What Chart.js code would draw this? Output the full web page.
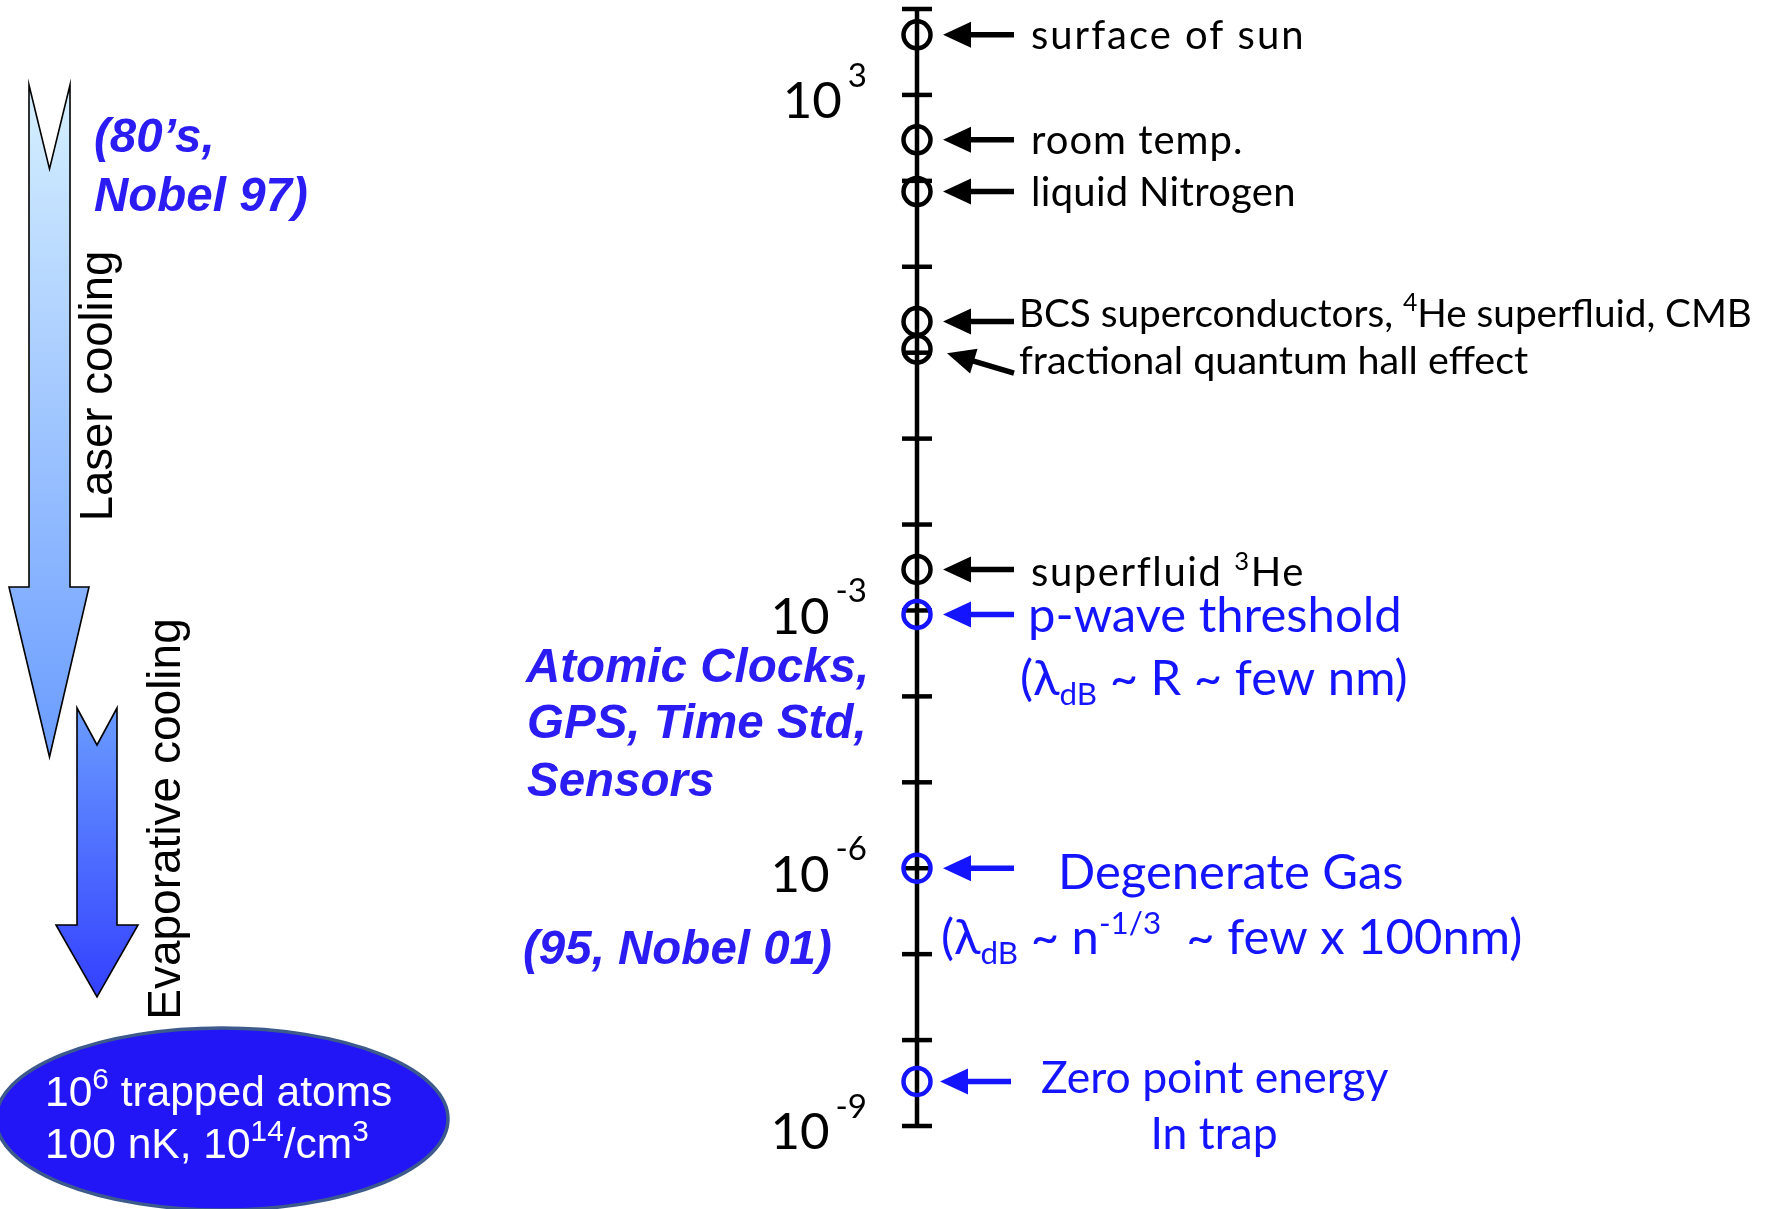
<!DOCTYPE html>
<html>
<head>
<meta charset="utf-8">
<script src="https://cdn.jsdelivr.net/npm/chart.js@4.4.1/dist/chart.umd.min.js"></script>
<style>
  html, body { margin: 0; padding: 0; background: #ffffff; }
  #wrap { width: 1771px; height: 1209px; }
</style>
</head>
<body>
<div id="wrap"><canvas id="c" width="1771" height="1209"></canvas></div>
<script>
// ---- data: temperature scale (kelvin) ----
const classicLabels = [
  'surface of sun',
  'room temp.',
  'liquid Nitrogen',
  'BCS superconductors, ^{4}He superfluid, CMB',
  'fractional quantum hall effect',
  'superfluid ^{3}He'
];
const classicTemps = [5000, 300, 75, 2.3, 1.1, 3e-3];

const atomLabels = ['p-wave threshold', 'Degenerate Gas', 'Zero point energy'];
const atomNotes = ['(λ_{dB} ~ R ~ few nm)', '(λ_{dB} ~ n^{-1/3}  ~ few x 100nm)', 'In trap'];
const atomTemps = [0.9e-3, 1e-6, 3.3e-9];

const axisMin = 1e-9;
const axisMax = 1e4;
const tickLabelValues = [1e3, 1e-3, 1e-6, 1e-9];
const tickLabelExponents = ['3', '-3', '-6', '-9'];

// ---- styling ----
const BLACK = '#000000';
const BLUE = '#1414ff';
const ITALIC_BLUE = '#2a1cf2';
const SANS = 'Lato, "Open Sans", sans-serif';
const ARIAL = '"Liberation Sans", Arial, sans-serif';

// label placement relative to each marker (pixels)
const classicLayout = [
  { dx: 114, dy: 0, spacing: 2, size: 40 },
  { dx: 114, dy: 0, spacing: 1, size: 40 },
  { dx: 114, dy: 0, spacing: 0.3, size: 40 },
  { dx: 102, dy: -9, spacing: 0, size: 38.7 },
  { dx: 102, dy: 11, spacing: 0, size: 39.5, tip: [30, 4], tail: [97, 24] },
  { dx: 114, dy: 2, spacing: 1.6, size: 40 }
];
const atomLayout = [
  { dx: 111, dy: 0, size: 49, note: { dx: 103, dy: 63, align: 'left', size: 49 } },
  { dx: 141, dy: 3, size: 49, note: { dx: 24, dy: 68, align: 'left', size: 49 } },
  { dx: 124, dy: -4, size: 44.5, tip: [23, 0], tail: [94, 0], note: { dx: 297, dy: 52, align: 'center', size: 44.5 } }
];

// ---- text helpers ----
function parseRich(str) {
  const parts = str.split(/(\^\{[^}]*\}|_\{[^}]*\})/).filter(s => s.length);
  return parts.map(p => {
    if (p.startsWith('^{')) return { t: p.slice(2, -1), mode: 'sup' };
    if (p.startsWith('_{')) return { t: p.slice(2, -1), mode: 'sub' };
    return { t: p, mode: '' };
  });
}

function drawRich(ctx, str, x, y, o) {
  const size = o.size;
  const small = o.small || 0.64;
  const segs = parseRich(str);
  const fontFor = m => {
    const s = m ? size * small : size;
    return `${o.style || 'normal'} ${o.weight || 'normal'} ${s}px ${o.family}`;
  };
  ctx.save();
  if ('letterSpacing' in ctx) ctx.letterSpacing = (o.spacing || 0) + 'px';
  let total = 0;
  segs.forEach(s => { ctx.font = fontFor(s.mode); s.w = ctx.measureText(s.t).width; total += s.w; });
  let cx = x;
  if (o.align === 'center') cx = x - total / 2;
  else if (o.align === 'right') cx = x - total;
  const base = y + size * 0.36;
  ctx.fillStyle = o.color;
  ctx.textBaseline = 'alphabetic';
  ctx.textAlign = 'left';
  segs.forEach(s => {
    ctx.font = fontFor(s.mode);
    let by = base;
    if (s.mode === 'sup') by = base - size * 0.4;
    if (s.mode === 'sub') by = base + size * 0.2;
    ctx.fillText(s.t, cx, by);
    cx += s.w;
  });
  ctx.restore();
}

function drawArrow(ctx, x1, y1, x2, y2, color) {
  // from tail (x1,y1) to tip (x2,y2)
  const ang = Math.atan2(y2 - y1, x2 - x1);
  const headLen = 28, headHalf = 13;
  const bx = x2 - headLen * Math.cos(ang), by = y2 - headLen * Math.sin(ang);
  ctx.save();
  ctx.strokeStyle = color;
  ctx.fillStyle = color;
  ctx.lineWidth = 5.5;
  ctx.lineCap = 'butt';
  ctx.beginPath();
  ctx.moveTo(x1, y1);
  ctx.lineTo(bx + 2 * Math.cos(ang), by + 2 * Math.sin(ang));
  ctx.stroke();
  ctx.beginPath();
  ctx.moveTo(x2, y2);
  ctx.lineTo(bx - headHalf * Math.sin(ang), by + headHalf * Math.cos(ang));
  ctx.lineTo(bx + headHalf * Math.sin(ang), by - headHalf * Math.cos(ang));
  ctx.closePath();
  ctx.fill();
  ctx.restore();
}

// notched block arrow pointing down, filled with a vertical gradient
function drawBlockArrow(ctx, a, c1, c2) {
  const g = ctx.createLinearGradient(0, a.top, 0, a.tipY);
  g.addColorStop(0, c1);
  g.addColorStop(1, c2);
  ctx.save();
  ctx.beginPath();
  ctx.moveTo(a.left, a.top);
  ctx.lineTo(a.cx, a.notchY);
  ctx.lineTo(a.right, a.top);
  ctx.lineTo(a.right, a.headY);
  ctx.lineTo(a.headR, a.headY);
  ctx.lineTo(a.cx, a.tipY);
  ctx.lineTo(a.headL, a.headY);
  ctx.lineTo(a.left, a.headY);
  ctx.closePath();
  ctx.fillStyle = g;
  ctx.fill();
  ctx.strokeStyle = '#000';
  ctx.lineWidth = 1.6;
  ctx.stroke();
  ctx.restore();
}

function drawRotated(ctx, text, cx, cy, font, color) {
  ctx.save();
  ctx.translate(cx, cy);
  ctx.rotate(-Math.PI / 2);
  ctx.font = font;
  ctx.fillStyle = color;
  ctx.textAlign = 'center';
  ctx.textBaseline = 'middle';
  ctx.fillText(text, 0, 0);
  ctx.restore();
}

// ---- plugin: axis, side panel, arrows and labels ----
const scaleDiagram = {
  id: 'scaleDiagram',
  beforeDatasetsDraw(chart) {
    const ctx = chart.ctx;
    const xs = chart.scales.x, ys = chart.scales.y;
    const ax = xs.getPixelForValue(0);

    // cooling arrows
    drawBlockArrow(ctx, { left: 29, right: 70, cx: 49.5, top: 85, notchY: 169, headY: 587, headL: 9, headR: 89, tipY: 757 },
      '#d6f0ff', '#6a9cff');
    drawBlockArrow(ctx, { left: 77, right: 117, cx: 97, top: 708, notchY: 745, headY: 925, headL: 56, headR: 138, tipY: 997 },
      '#6a9cff', '#3340ff');
    drawRotated(ctx, 'Laser cooling', 99, 386, `45.5px ${ARIAL}`, BLACK);
    drawRotated(ctx, 'Evaporative cooling', 167, 819, `46px ${ARIAL}`, BLACK);

    ctx.save();
    ctx.font = `italic bold 47.5px ${ARIAL}`;
    ctx.fillStyle = ITALIC_BLUE;
    ctx.textBaseline = 'middle';
    ctx.fillText('(80\u2019s,', 94, 139);
    ctx.fillText('Nobel 97)', 94, 198);
    ctx.fillText('Atomic Clocks,', 526, 669);
    ctx.fillText('GPS, Time Std,', 527, 725);
    ctx.fillText('Sensors', 527, 783);
    ctx.fillText('(95, Nobel 01)', 523, 951);
    ctx.restore();

    // trapped cloud
    ctx.save();
    ctx.beginPath();
    ctx.ellipse(222, 1119, 226, 91, 0, 0, Math.PI * 2);
    ctx.fillStyle = '#2216f6';
    ctx.fill();
    ctx.lineWidth = 3.5;
    ctx.strokeStyle = '#3d5a8c';
    ctx.stroke();
    ctx.restore();
    drawRich(ctx, '10^{6} trapped atoms', 45, 1091, { size: 42.5, family: ARIAL, color: '#ffffff', small: 0.7 });
    drawRich(ctx, '100 nK, 10^{14}/cm^{3}', 45, 1143, { size: 42.5, family: ARIAL, color: '#ffffff', small: 0.7 });

    // temperature axis
    const top = ys.getPixelForValue(axisMax), bottom = ys.getPixelForValue(axisMin);
    ctx.save();
    ctx.strokeStyle = BLACK;
    ctx.lineWidth = 4.5;
    ctx.beginPath();
    ctx.moveTo(ax, top);
    ctx.lineTo(ax, bottom);
    ctx.stroke();
    const lo = Math.round(Math.log10(axisMin)), hi = Math.round(Math.log10(axisMax));
    for (let e = lo; e <= hi; e++) {
      const y = ys.getPixelForValue(Math.pow(10, e));
      ctx.beginPath();
      ctx.moveTo(ax - 15, y);
      ctx.lineTo(ax + 15, y);
      ctx.stroke();
    }
    ctx.restore();

    // decade labels, e.g. 10^-3
    tickLabelValues.forEach((v, i) => {
      const y = ys.getPixelForValue(v);
      const right = ax - 50;
      ctx.save();
      ctx.font = `33px ${SANS}`;
      const sw = ctx.measureText(tickLabelExponents[i]).width;
      ctx.fillStyle = BLACK;
      ctx.textBaseline = 'middle';
      ctx.textAlign = 'left';
      ctx.fillText(tickLabelExponents[i], right - sw, y - 19);
      ctx.font = `51px ${SANS}`;
      ctx.textAlign = 'right';
      ctx.fillText('10', right - sw - 6, y + 7);
      ctx.restore();
    });
  },
  afterDatasetsDraw(chart) {
    const ctx = chart.ctx;
    const xs = chart.scales.x, ys = chart.scales.y;
    const ax = xs.getPixelForValue(0);

    classicTemps.forEach((t, i) => {
      const y = ys.getPixelForValue(t);
      const L = classicLayout[i];
      const tip = L.tip || [26, 0], tail = L.tail || [97, 0];
      drawArrow(ctx, ax + tail[0], y + tail[1], ax + tip[0], y + tip[1], BLACK);
      drawRich(ctx, classicLabels[i], ax + L.dx, y + L.dy,
        { size: L.size, family: SANS, color: BLACK, spacing: L.spacing });
    });

    atomTemps.forEach((t, i) => {
      const y = ys.getPixelForValue(t);
      const L = atomLayout[i];
      const tip = L.tip || [26, 0], tail = L.tail || [97, 0];
      drawArrow(ctx, ax + tail[0], y + tail[1], ax + tip[0], y + tip[1], BLUE);
      drawRich(ctx, atomLabels[i], ax + L.dx, y + L.dy, { size: L.size, family: SANS, color: BLUE });
      drawRich(ctx, atomNotes[i], ax + L.note.dx, y + L.note.dy,
        { size: L.note.size, family: SANS, color: BLUE, align: L.note.align });
    });
  }
};

function build() {
  const ctx = document.getElementById('c').getContext('2d');
  const marker = color => ({
    borderColor: color,
    backgroundColor: 'rgba(0,0,0,0)',
    pointRadius: 13.5,
    pointHoverRadius: 13.5,
    pointBorderWidth: 4.5,
    clip: false
  });
  new Chart(ctx, {
    type: 'scatter',
    data: {
      datasets: [
        Object.assign({ label: 'reference temperatures', data: classicTemps.map(t => ({ x: 0, y: t })) }, marker(BLACK)),
        Object.assign({ label: 'cold atoms', data: atomTemps.map(t => ({ x: 0, y: t })) }, marker(BLUE))
      ]
    },
    options: {
      responsive: false,
      animation: false,
      events: [],
      layout: { autoPadding: false, padding: { top: 9, bottom: 83, left: 63, right: 0 } },
      scales: {
        x: { type: 'linear', min: -1, max: 1, display: false },
        y: { type: 'logarithmic', min: axisMin, max: axisMax, display: false }
      },
      plugins: { legend: { display: false }, tooltip: { enabled: false } }
    },
    plugins: [scaleDiagram]
  });
}

if (document.fonts && document.fonts.load) {
  Promise.all([
    document.fonts.load('40px Lato'),
    document.fonts.load('40px "Liberation Sans"'),
    document.fonts.load('italic bold 40px "Liberation Sans"')
  ]).then(build, build);
} else {
  build();
}
</script>
</body>
</html>
